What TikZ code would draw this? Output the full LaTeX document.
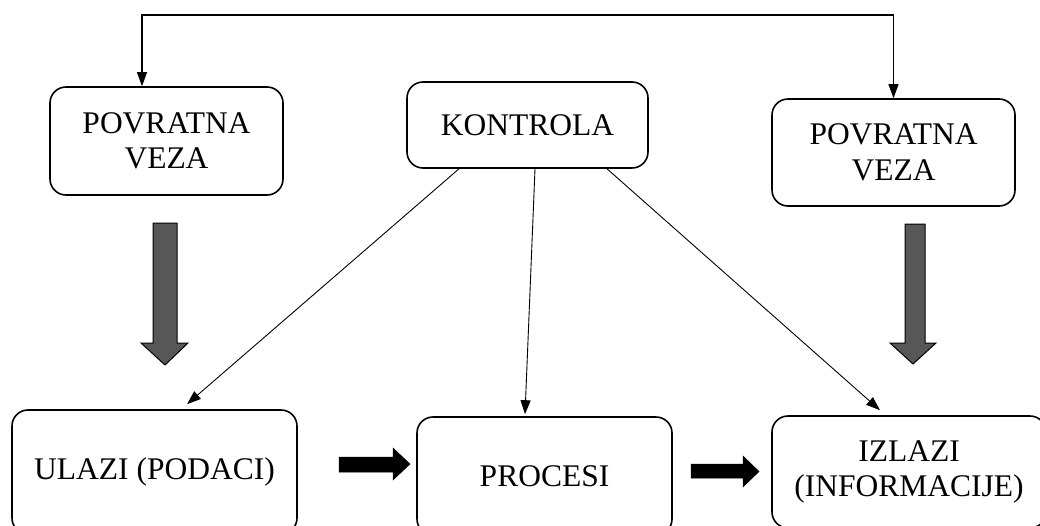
\documentclass[tikz,border=0pt]{standalone}
\usepackage{fontspec}
\setmainfont{Liberation Serif}
\usetikzlibrary{arrows.meta,calc}
\begin{document}
\begin{tikzpicture}[x=1pt,y=-1pt,
  box/.style={draw=black,line width=1.6pt,rounded corners=16pt,inner sep=0pt,
    align=center,font=\fontsize{31.5}{35.5}\selectfont},
  thin/.style={draw=black,line width=0.9pt,-{Triangle[length=14pt,width=10pt]}},
  grayarrow/.style={fill=black!66,draw=black,line width=1pt},
  blackarrow/.style={fill=black,draw=black,line width=0.5pt}]
\useasboundingbox (0,0) rectangle (1040,525);
% boxes
\node[box,minimum width=233pt,minimum height=108pt] (lpv) at (166.5,141) {POVRATNA\\VEZA};
\node[box,minimum width=241pt,minimum height=86pt] (k) at (527.5,125) {KONTROLA};
\node[box,minimum width=243pt,minimum height=107pt] (rpv) at (893.5,152.5) {POVRATNA\\VEZA};
\node[box,minimum width=285pt,minimum height=124pt] (u) at (154.5,472) {ULAZI (PODACI)};
\node[box,minimum width=255pt,minimum height=118pt] (p) at (544.5,476) {PROCESI};
\node[box,minimum width=274pt,minimum height=112pt] (i) at (909,472) {IZLAZI\\(INFORMACIJE)};
% top feedback line
\coordinate (tl) at (142,15);
\coordinate (tr) at (893.5,15);
\draw[line width=1.1pt,{Triangle[length=14pt,width=10pt]}-{Triangle[length=14pt,width=10pt]}]
  (tl |- lpv.north) -- (tl) -- (tr) -- (rpv.north);
% control lines
\draw[thin] ($(k.south)+(-68.5,0)$) -- ($(u.north)+(32.5,-5)$);
\draw[thin] ($(k.south)+(7.5,0)$) -- ($(p.north)+(-19.5,-2)$);
\draw[thin] ($(k.south)+(79.5,0)$) -- ($(i.north)+(-29,-5)$);
% gray block arrows
\draw[grayarrow] (153,223) -- (177,223) -- (177,343) -- (188,343) -- (165,365)
  -- (141,343) -- (153,343) -- cycle;
\draw[grayarrow] (905,224) -- (925,224) -- (925,343) -- (936,343) -- (913,364)
  -- (890,343) -- (905,343) -- cycle;
% black block arrows
\draw[blackarrow] (339,457) -- (393,457) -- (393,448) -- (410,464) -- (393,480)
  -- (393,472) -- (339,472) -- cycle;
\draw[blackarrow] (691,464) -- (743,464) -- (743,456) -- (759,471.5) -- (743,487)
  -- (743,478) -- (691,478) -- cycle;
\end{tikzpicture}
\end{document}
